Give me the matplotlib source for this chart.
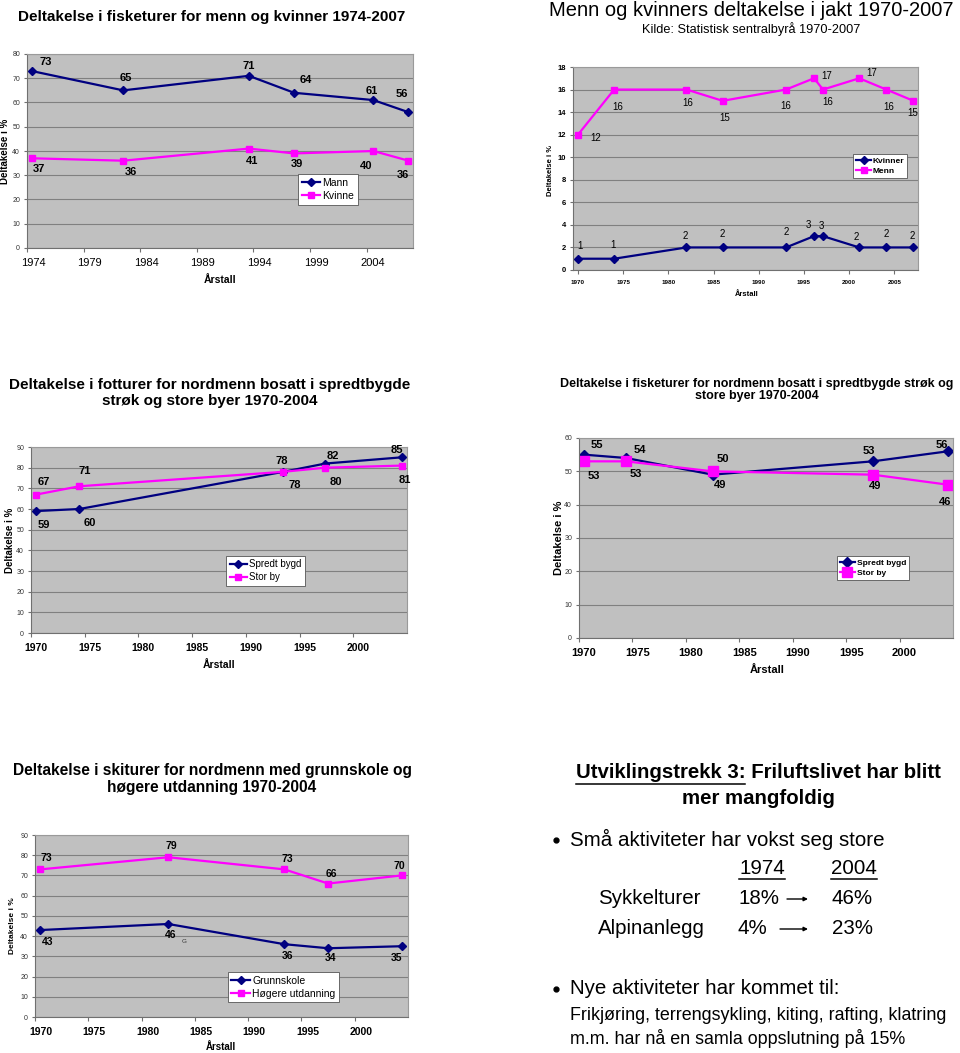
import matplotlib
matplotlib.use("Agg")
import matplotlib.pyplot as plt
from matplotlib.transforms import ScaledTranslation
from matplotlib.lines import Line2D
from matplotlib.patches import FancyArrowPatch

plt.rcParams['font.family'] = ['Liberation Sans', 'DejaVu Sans']

W, H = 960, 1053
NAVY = '#000080'
MAG = '#FF00FF'
BG = '#C0C0C0'
GRID = '#808080'

# --- chart 1: fisketurer menn / kvinner
c1_years = [1974.4, 1982.5, 1993.6, 1997.6, 2004.6, 2007.7]
c1_mann = [73, 65, 71, 64, 61, 56]
c1_kvinne = [37, 36, 41, 39, 40, 36]

# --- chart 2: jakt
c2_years = [1970, 1974, 1982, 1986, 1993, 1996.1, 1997.1, 2001.1, 2004.1, 2007.1]
c2_kvinner = [1, 1, 2, 2, 2, 3, 3, 2, 2, 2]
c2_menn = [12, 16, 16, 15, 16, 17, 16, 17, 16, 15]

# --- chart 3: fotturer
c3_years = [1970.5, 1974.5, 1993.5, 1997.4, 2004.5]
c3_spredt = [59, 60, 78, 82, 85]
c3_storby = [67, 71, 78, 80, 81]

# --- chart 4: fisketurer spredt / storby
c4_years = [1970.5, 1974.4, 1982.5, 1997.5, 2004.5]
c4_spredt = [55, 54, 49, 53, 56]
c4_storby = [53, 53, 50, 49, 46]

# --- chart 5: skiturer
c5_years = [1970.5, 1982.5, 1993.4, 1997.5, 2004.4]
c5_grunn = [43, 46, 36, 34, 35]
c5_hoyere = [73, 79, 73, 66, 70]

fig = plt.figure(figsize=(W / 100, H / 100), dpi=100)


def px_rect(x0, y0, x1, y1):
    return [x0 / W, 1 - y1 / H, (x1 - x0) / W, (y1 - y0) / H]


def fx(x):
    return x / W


def fy(y):
    return 1 - y / H


def setup_axes(rect, xlim, ylim, ystep, xticks, xt_size, xt_bold, yt_size, yt_bold, xshift=0):
    ax = fig.add_axes(px_rect(*rect))
    ax.set_facecolor(BG)
    ax.set_xlim(*xlim)
    ax.set_ylim(*ylim)
    ax.set_yticks(range(ylim[0], ylim[1] + 1, ystep))
    ax.set_xticks(xticks)
    ax.yaxis.grid(True, color=GRID, lw=0.8)
    ax.set_axisbelow(True)
    for s in ['top', 'right']:
        ax.spines[s].set_color('#9a9a9a')
        ax.spines[s].set_linewidth(0.8)
    for s in ['left', 'bottom']:
        ax.spines[s].set_color('#707070')
        ax.spines[s].set_linewidth(0.8)
    ax.tick_params(axis='x', direction='out', length=3, color='#707070',
                   labelsize=xt_size, pad=4)
    ax.tick_params(axis='y', direction='out', length=2, color='#707070',
                   labelsize=yt_size, pad=3, labelcolor='#333333' if not yt_bold else 'black')
    for lab in ax.get_xticklabels():
        if xt_bold:
            lab.set_fontweight('bold')
        if xshift:
            lab.set_transform(lab.get_transform() + ScaledTranslation(xshift / 100, 0, fig.dpi_scale_trans))
    if yt_bold:
        for lab in ax.get_yticklabels():
            lab.set_fontweight('bold')
    return ax


def labels(ax, xs, ys, offs, size, bold):
    for x, y, (dx, dy) in zip(xs, ys, offs):
        ax.annotate(str(y), (x, y), xytext=(dx * 0.72, dy * 0.72), textcoords='offset points',
                    ha='center', va='center', fontsize=size,
                    fontweight='bold' if bold else 'normal')


def series(ax, xs, a, b, la, lb, ms_d=4.5, ms_s=5):
    ax.plot(xs, a, color=NAVY, lw=1.6, marker='D', ms=ms_d, label=la)
    ax.plot(xs, b, color=MAG, lw=1.6, marker='s', ms=ms_s, label=lb)


def legend(ax, anchor, size, bold):
    lg = ax.legend(loc='upper left', bbox_to_anchor=anchor, fontsize=size, frameon=True,
                   fancybox=False, edgecolor='#555555', framealpha=1, borderpad=0.35,
                   handlelength=1.8, handletextpad=0.2, labelspacing=0.3, borderaxespad=0)
    lg.get_frame().set_linewidth(0.6)
    if bold:
        for t in lg.get_texts():
            t.set_fontweight('bold')


# ---------------- chart 1
ax1 = setup_axes((27, 54, 413, 248), (1974, 2008.1), (0, 80), 10,
                 [1974, 1979, 1984, 1989, 1994, 1999, 2004], 8, False, 5, False, xshift=6)
series(ax1, c1_years, c1_mann, c1_kvinne, 'Mann', 'Kvinne')
labels(ax1, c1_years, c1_mann, [(14, 9), (3, 12), (0, 10), (12, 13), (-2, 9), (-7, 18)], 8, True)
labels(ax1, c1_years, c1_kvinne, [(7, -11), (8, -11), (3, -12), (3, -11), (-7, -15), (-6, -14)], 8, True)
legend(ax1, (0.702, 0.381), 7.5, False)
fig.text(fx(212), fy(17), 'Deltakelse i fisketurer for menn og kvinner 1974-2007',
         ha='center', va='center', fontsize=11, fontweight='bold')
fig.text(fx(5), fy(151), 'Deltakelse i %', rotation=90, ha='center', va='center',
         fontsize=7, fontweight='bold')
fig.text(fx(220), fy(280), 'Årstall', ha='center', va='center', fontsize=7.5, fontweight='bold')

# ---------------- chart 2
ax2 = setup_axes((573, 67, 918, 270), (1969.45, 2007.6), (0, 18), 2,
                 [1970, 1975, 1980, 1985, 1990, 1995, 2000, 2005], 4.5, True, 5.5, True)
series(ax2, c2_years, c2_kvinner, c2_menn, 'Kvinner', 'Menn', ms_d=4, ms_s=5)
labels(ax2, c2_years, c2_menn, [(18, -3), (4, -17), (1, -13), (2, -17), (0, -16), (13, 2),
                                 (5, -12), (12, 5), (2, -17), (-1, -12)], 7, False)
labels(ax2, c2_years, c2_kvinner, [(2, 13), (-1, 14), (-1, 11), (0, 13), (0, 15), (-6, 11),
                                    (-2, 10), (-3, 10), (0, 13), (-1, 11)], 7, False)
legend(ax2, (0.812, 0.571), 6, True)
fig.text(fx(751), fy(10), 'Menn og kvinners deltakelse i jakt 1970-2007',
         ha='center', va='center', fontsize=14.5)
fig.text(fx(751), fy(29), 'Kilde: Statistisk sentralbyrå 1970-2007',
         ha='center', va='center', fontsize=9.2)
fig.text(fx(551), fy(170), 'Deltakelse i %', rotation=90, ha='center', va='center',
         fontsize=5.5, fontweight='bold')
fig.text(fx(747), fy(294), 'Årstall', ha='center', va='center', fontsize=5.5, fontweight='bold')

# ---------------- chart 3
ax3 = setup_axes((31, 447, 407, 633), (1970, 2005), (0, 90), 10,
                 [1970, 1975, 1980, 1985, 1990, 1995, 2000], 7.5, True, 5, False, xshift=5)
series(ax3, c3_years, c3_spredt, c3_storby, 'Spredt bygd', 'Stor by')
labels(ax3, c3_years, c3_spredt, [(7, -14), (10, -14), (11, -13), (8, 8), (-5, 7)], 8, True)
labels(ax3, c3_years, c3_storby, [(7, 13), (5, 15), (-2, 11), (11, -14), (3, -14)], 8, True)
legend(ax3, (0.519, 0.414), 7, False)
fig.text(fx(210), fy(393), 'Deltakelse i fotturer for nordmenn bosatt i spredtbygde\nstrøk og store byer 1970-2004',
         ha='center', va='center', fontsize=11, fontweight='bold', linespacing=1.15)
fig.text(fx(10), fy(540), 'Deltakelse i %', rotation=90, ha='center', va='center',
         fontsize=7, fontweight='bold')
fig.text(fx(219), fy(665), 'Årstall', ha='center', va='center', fontsize=7.5, fontweight='bold')

# ---------------- chart 4
ax4 = setup_axes((579, 438, 953, 638), (1970, 2005), (0, 60), 10,
                 [1970, 1975, 1980, 1985, 1990, 1995, 2000], 8, True, 5, False, xshift=5)
series(ax4, c4_years, c4_spredt, c4_storby, 'Spredt bygd', 'Stor by', ms_d=5, ms_s=6.5)
labels(ax4, c4_years, c4_spredt, [(13, 10), (14, 8), (7, -10), (-4, 10), (-6, 6)], 8, True)
labels(ax4, c4_years, c4_storby, [(9, -15), (10, -13), (10, 12), (2, -11), (-3, -17)], 8, True)
legend(ax4, (0.690, 0.41), 6, True)
fig.text(fx(757), fy(390), 'Deltakelse i fisketurer for nordmenn bosatt i spredtbygde strøk og\nstore byer 1970-2004',
         ha='center', va='center', fontsize=9, fontweight='bold', linespacing=1.1)
fig.text(fx(559), fy(538), 'Deltakelse i %', rotation=90, ha='center', va='center',
         fontsize=8, fontweight='bold')
fig.text(fx(767), fy(670), 'Årstall', ha='center', va='center', fontsize=8, fontweight='bold')

# ---------------- chart 5
ax5 = setup_axes((35, 835, 408, 1017), (1970, 2005), (0, 90), 10,
                 [1970, 1975, 1980, 1985, 1990, 1995, 2000], 7.5, True, 5, False, xshift=6)
series(ax5, c5_years, c5_grunn, c5_hoyere, 'Grunnskole', 'Høgere utdanning')
labels(ax5, c5_years, c5_grunn, [(7, -12), (2, -11), (3, -12), (2, -10), (-5, -12)], 7.5, True)
labels(ax5, c5_years, c5_hoyere, [(6, 11), (3, 11), (3, 10), (3, 10), (-2, 9)], 7.5, True)
ax5.annotate('G', (c5_years[1], c5_grunn[1]), xytext=(16 * 0.72, -18 * 0.72),
             textcoords='offset points', ha='center', va='center', fontsize=4.5, color='#333333')
legend(ax5, (0.517, 0.247), 7.5, False)
fig.text(fx(212), fy(779), 'Deltakelse i skiturer for nordmenn med grunnskole og\nhøgere utdanning 1970-2004',
         ha='center', va='center', fontsize=11.2, fontweight='bold', linespacing=1.15)
fig.text(fx(13), fy(926), 'Deltakelse i %', rotation=90, ha='center', va='center',
         fontsize=6, fontweight='bold')
fig.text(fx(221), fy(1047), 'Årstall', ha='center', va='center', fontsize=7, fontweight='bold')

# ---------------- text panel
renderer = fig.canvas.get_renderer()
HEAD = 14.7
BODY = 14.8
SMALL = 12.9


def underline(x0, x1, y):
    fig.add_artist(Line2D([fx(x0), fx(x1)], [fy(y), fy(y)], color='black', lw=1.1))


def bullet(x, y):
    fig.add_artist(Line2D([fx(x)], [fy(y)], marker='o', ms=3.5, color='black', lw=0))


head = fig.text(fx(758), fy(773), 'Utviklingstrekk 3: Friluftslivet har blitt',
                ha='center', va='center', fontsize=HEAD, fontweight='bold')
bb = head.get_window_extent(renderer)
part = fig.text(0, 0, 'Utviklingstrekk 3:', fontsize=HEAD, fontweight='bold')
pw = part.get_window_extent(renderer).width
part.remove()
underline(bb.x0, bb.x0 + pw, H - bb.y0 + 1)
fig.text(fx(758), fy(799), 'mer mangfoldig', ha='center', va='center', fontsize=HEAD, fontweight='bold')

bullet(556, 840)
fig.text(fx(570), fy(839), 'Små aktiviteter har vokst seg store', ha='left', va='center', fontsize=BODY)

for txt, cx in [('1974', 762), ('2004', 854)]:
    t = fig.text(fx(cx), fy(868), txt, ha='center', va='center', fontsize=BODY)
    b = t.get_window_extent(renderer)
    underline(b.x0, b.x1, H - b.y0 + 1)

rows = [('Sykkelturer', '18%', '46%', 899, 787), ('Alpinanlegg', '4%', '23%', 929, 780)]
for name, a, b, y, ax0 in rows:
    fig.text(fx(598), fy(y), name, ha='left', va='center', fontsize=BODY)
    fig.text(fx(738), fy(y), a, ha='left', va='center', fontsize=BODY)
    fig.text(fx(832), fy(y), b, ha='left', va='center', fontsize=BODY)
    fig.add_artist(FancyArrowPatch((fx(ax0), fy(y)), (fx(808), fy(y)), transform=fig.transFigure,
                                   arrowstyle='-|>', mutation_scale=6, lw=1, color='black',
                                   shrinkA=0, shrinkB=0))

bullet(556, 989)
fig.text(fx(570), fy(988), 'Nye aktiviteter har kommet til:', ha='left', va='center', fontsize=BODY)
fig.text(fx(570), fy(1016), 'Frikjøring, terrengsykling, kiting, rafting, klatring',
         ha='left', va='center', fontsize=SMALL)
fig.text(fx(570), fy(1038), 'm.m. har nå en samla oppslutning på 15%',
         ha='left', va='center', fontsize=SMALL)

fig.savefig('out.png', dpi=100)
